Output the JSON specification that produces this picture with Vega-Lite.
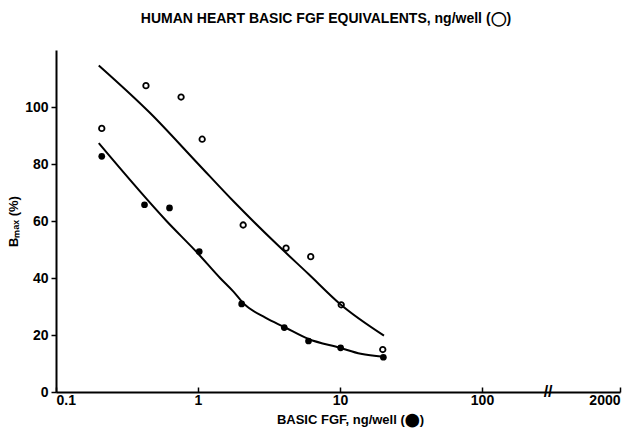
{
  "$schema": "https://vega.github.io/schema/vega-lite/v6.json",
  "width": 564,
  "height": 342,
  "autosize": {"type": "none"},
  "padding": {"left": 56, "top": 50, "right": 18, "bottom": 39},
  "background": "white",
  "config": {
    "view": {"stroke": null},
    "font": "Liberation Sans",
    "axis": {"grid": false, "domainColor": "black", "domainWidth": 2, "tickColor": "black", "tickWidth": 1.5, "labelColor": "black", "labelFont": "Liberation Sans", "labelFontWeight": "bold", "labelFontSize": 14, "titleColor": "black", "titleFont": "Liberation Sans", "titleFontWeight": "bold"}
  },
  "title": {"text": "HUMAN HEART BASIC FGF EQUIVALENTS, ng/well (◯)", "fontSize": 14, "fontWeight": "bold", "font": "Liberation Sans", "color": "black", "anchor": "middle", "offset": 24, "dx": -12},
  "datasets": {
    "points": [
      {"conc": 0.21, "bmax": 92.5, "series": "open"},
      {"conc": 0.43, "bmax": 107.5, "series": "open"},
      {"conc": 0.76, "bmax": 103.5, "series": "open"},
      {"conc": 1.07, "bmax": 88.7, "series": "open"},
      {"conc": 2.08, "bmax": 58.6, "series": "open"},
      {"conc": 4.17, "bmax": 50.5, "series": "open"},
      {"conc": 6.22, "bmax": 47.5, "series": "open"},
      {"conc": 10.2, "bmax": 30.6, "series": "open"},
      {"conc": 20, "bmax": 14.9, "series": "open"},
      {"conc": 0.21, "bmax": 82.7, "series": "filled"},
      {"conc": 0.42, "bmax": 65.7, "series": "filled"},
      {"conc": 0.63, "bmax": 64.6, "series": "filled"},
      {"conc": 1.02, "bmax": 49.3, "series": "filled"},
      {"conc": 2.03, "bmax": 30.9, "series": "filled"},
      {"conc": 4.05, "bmax": 22.6, "series": "filled"},
      {"conc": 6.0, "bmax": 17.9, "series": "filled"},
      {"conc": 10.1, "bmax": 15.5, "series": "filled"},
      {"conc": 20.2, "bmax": 12.2, "series": "filled"}
    ],
    "curves": [
      {"conc": 0.2, "bmax": 114.6, "series": "upper"},
      {"conc": 0.46, "bmax": 97.9, "series": "upper"},
      {"conc": 1.0, "bmax": 80.1, "series": "upper"},
      {"conc": 1.77, "bmax": 67.0, "series": "upper"},
      {"conc": 3.58, "bmax": 51.9, "series": "upper"},
      {"conc": 6.0, "bmax": 41.4, "series": "upper"},
      {"conc": 10.0, "bmax": 30.9, "series": "upper"},
      {"conc": 20.4, "bmax": 19.8, "series": "upper"},
      {"conc": 0.2, "bmax": 87.3, "series": "lower"},
      {"conc": 0.6, "bmax": 60.0, "series": "lower"},
      {"conc": 1.0, "bmax": 48.6, "series": "lower"},
      {"conc": 1.43, "bmax": 40.0, "series": "lower"},
      {"conc": 1.77, "bmax": 35.3, "series": "lower"},
      {"conc": 2.1, "bmax": 31.0, "series": "lower"},
      {"conc": 3.0, "bmax": 26.0, "series": "lower"},
      {"conc": 4.05, "bmax": 22.8, "series": "lower"},
      {"conc": 6.0, "bmax": 18.6, "series": "lower"},
      {"conc": 10.0, "bmax": 15.5, "series": "lower"},
      {"conc": 14.0, "bmax": 13.4, "series": "lower"},
      {"conc": 20.2, "bmax": 12.4, "series": "lower"}
    ],
    "brk": [{"conc": 292, "bmax": 0, "t": "//"}]
  },
  "layer": [
    {
      "data": {"name": "curves"},
      "mark": {"type": "line", "color": "black", "strokeWidth": 2, "interpolate": "monotone"},
      "encoding": {
        "x": {"field": "conc", "type": "quantitative",
          "scale": {"type": "log", "domain": [0.1, 937], "nice": false},
          "axis": {"values": [0.1, 1, 10, 100, 937], "tickSize": -5, "labelPadding": 6,
            "labelExpr": "datum.value > 500 ? '2000' : (datum.value < 0.5 ? '0.1' : format(datum.value, 'd'))",
            "title": "BASIC FGF, ng/well (⬤)", "titleFontSize": 13, "titlePadding": 6, "titleX": 294}},
        "y": {"field": "bmax", "type": "quantitative",
          "scale": {"domain": [0, 120], "nice": false},
          "axis": {"values": [0, 20, 40, 60, 80, 100], "tickSize": 5, "labelPadding": 3,
            "title": "Bₘₐₓ (%)", "titleFontSize": 13, "titlePadding": 4}},
        "detail": {"field": "series"}
      }
    },
    {
      "data": {"name": "points"},
      "transform": [{"filter": "datum.series == 'open'"}],
      "mark": {"type": "point", "shape": "circle", "filled": false, "stroke": "black", "strokeWidth": 1.8, "size": 30, "opacity": 1},
      "encoding": {
        "x": {"field": "conc", "type": "quantitative"},
        "y": {"field": "bmax", "type": "quantitative"}
      }
    },
    {
      "data": {"name": "points"},
      "transform": [{"filter": "datum.series == 'filled'"}],
      "mark": {"type": "point", "shape": "circle", "filled": true, "fill": "black", "opacity": 1, "size": 45},
      "encoding": {
        "x": {"field": "conc", "type": "quantitative"},
        "y": {"field": "bmax", "type": "quantitative"}
      }
    },
    {
      "data": {"name": "brk"},
      "mark": {"type": "text", "fontSize": 16, "fontWeight": "bold", "font": "Liberation Sans", "color": "black", "baseline": "middle", "align": "center"},
      "encoding": {
        "x": {"field": "conc", "type": "quantitative"},
        "y": {"field": "bmax", "type": "quantitative"},
        "text": {"field": "t"}
      }
    }
  ]
}
